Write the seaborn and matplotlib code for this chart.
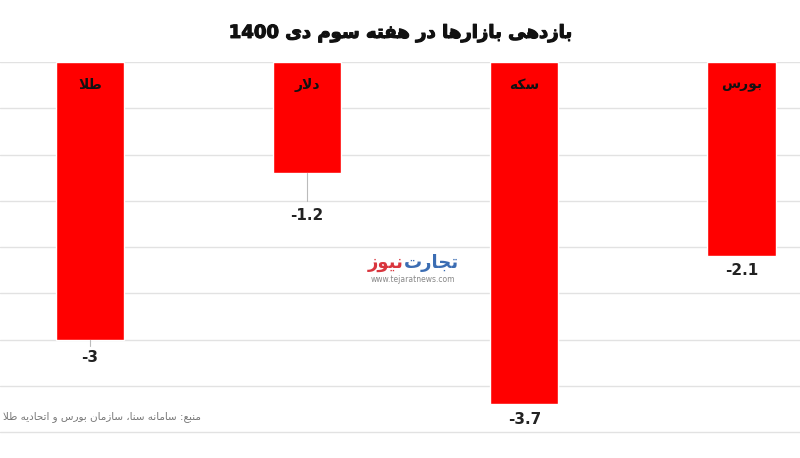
import re
import pandas as pd
import matplotlib
matplotlib.use('Agg')
import matplotlib.pyplot as plt
import matplotlib.patheffects as pe
import seaborn as sns

# داده‌ها
markets = ['طلا', 'دلار', 'سکه', 'بورس']
returns = [-3.0, -1.2, -3.7, -2.1]
title = 'بازدهی بازارها در هفته سوم دی 1400'
source = 'منبع: سامانه سنا، سازمان بورس و اتحادیه طلا'
brand_a = 'تجارت'
brand_b = 'نیوز'
brand_url = 'www.tejaratnews.com'

# شکل‌دهی حروف فارسی (matplotlib حروف را به هم نمی‌چسباند)
FORMS = {
    'ا': ('\uFE8D', '\uFE8E', None, None),
    'ب': ('\uFE8F', '\uFE90', '\uFE91', '\uFE92'),
    'ت': ('\uFE95', '\uFE96', '\uFE97', '\uFE98'),
    'ج': ('\uFE9D', '\uFE9E', '\uFE9F', '\uFEA0'),
    'ح': ('\uFEA1', '\uFEA2', '\uFEA3', '\uFEA4'),
    'د': ('\uFEA9', '\uFEAA', None, None),
    'ر': ('\uFEAD', '\uFEAE', None, None),
    'ز': ('\uFEAF', '\uFEB0', None, None),
    'س': ('\uFEB1', '\uFEB2', '\uFEB3', '\uFEB4'),
    'ط': ('\uFEC1', '\uFEC2', '\uFEC3', '\uFEC4'),
    'ع': ('\uFEC9', '\uFECA', '\uFECB', '\uFECC'),
    'ف': ('\uFED1', '\uFED2', '\uFED3', '\uFED4'),
    'ل': ('\uFEDD', '\uFEDE', '\uFEDF', '\uFEE0'),
    'م': ('\uFEE1', '\uFEE2', '\uFEE3', '\uFEE4'),
    'ن': ('\uFEE5', '\uFEE6', '\uFEE7', '\uFEE8'),
    'ه': ('\uFEE9', '\uFEEA', '\uFEEB', '\uFEEC'),
    'و': ('\uFEED', '\uFEEE', None, None),
    'ی': ('\uFBFC', '\uFBFD', '\uFBFE', '\uFBFF'),
    'ک': ('\uFB8E', '\uFB8F', '\uFB90', '\uFB91'),
}


def dual(c):
    return c in FORMS and FORMS[c][2] is not None


def fa(text):
    res = []
    i = 0
    n = len(text)
    while i < n:
        c = text[i]
        prev = text[i - 1] if i > 0 else ''
        nxt = text[i + 1] if i + 1 < n else ''
        if c not in FORMS:
            res.append(c)
            i += 1
            continue
        jp = dual(prev)
        if c == 'ل' and nxt == 'ا':
            res.append('\uFEFC' if jp else '\uFEFB')
            i += 2
            continue
        jn = dual(c) and nxt in FORMS
        iso, fin, ini, med = FORMS[c]
        if jp and jn:
            res.append(med)
        elif jp:
            res.append(fin)
        elif jn:
            res.append(ini)
        else:
            res.append(iso)
        i += 1
    vis = ''.join(res)[::-1]
    return re.sub(r'[0-9]+', lambda m: m.group(0)[::-1], vis)


sns.set_style('white')
plt.rcParams['font.family'] = ['DejaVu Sans']

df = pd.DataFrame({'market': markets, 'ret': returns})

fig = plt.figure(figsize=(8, 4.58), dpi=100)
ax = fig.add_axes([0, 0, 1, 396 / 458])
sns.barplot(data=df, x='market', y='ret', color='#ff0000', width=0.315,
            saturation=1, ax=ax)

ax.set_xlim(-0.415, 3.27)
ax.set_ylim(-4.28, 0)
ax.set_yticks([-4, -3.5, -3, -2.5, -2, -1.5, -1, -0.5, 0])
ax.grid(axis='y', color='#e2e2e2', linewidth=1)
ax.set_axisbelow(True)
ax.set_xlabel('')
ax.set_ylabel('')
ax.set_xticks([])
ax.tick_params(left=False, labelleft=False)
for s in ax.spines.values():
    s.set_visible(False)

# برچسب بازار داخل میله و مقدار زیر آن
label_offsets = [18, 42, 15, 14]
leader_len = [0.07, 0.3, 0, 0]
for i, (m, v) in enumerate(zip(markets, returns)):
    ax.text(i, -0.25, fa(m), ha='center', va='center', fontsize=10,
            fontweight='bold', color='#111111')
    ax.annotate(f'{v:g}', xy=(i, v), xytext=(0, -label_offsets[i]),
                textcoords='offset pixels', ha='center', va='center',
                fontsize=11, fontweight='bold', color='#222222')
    if leader_len[i] > 0:
        ax.plot([i, i], [v, v - leader_len[i]], color='#bbbbbb', lw=0.8)

t = fig.text(0.5, 1 - 33 / 458, fa(title), ha='center', va='center',
             fontsize=13, fontweight='bold', color='#111111')
t.set_path_effects([pe.withStroke(linewidth=0.8, foreground='#111111')])

# منبع
fig.text(3 / 800, 1 - 417 / 458, fa(source), ha='left', va='center',
         fontsize=7.5, color='#777777')

# نشان تجارت نیوز
fig.text(404 / 800, 1 - 263 / 458, fa(brand_a), ha='left', va='center',
         fontsize=13, fontweight='bold', color='#3b6db3')
fig.text(404 / 800, 1 - 263 / 458, fa(brand_b), ha='right', va='center',
         fontsize=13, fontweight='bold', color='#d9363e')
fig.text(413 / 800, 1 - 280 / 458, brand_url, ha='center', va='center',
         fontsize=5.5, color='#888888')

fig.savefig('out.png', dpi=100)
